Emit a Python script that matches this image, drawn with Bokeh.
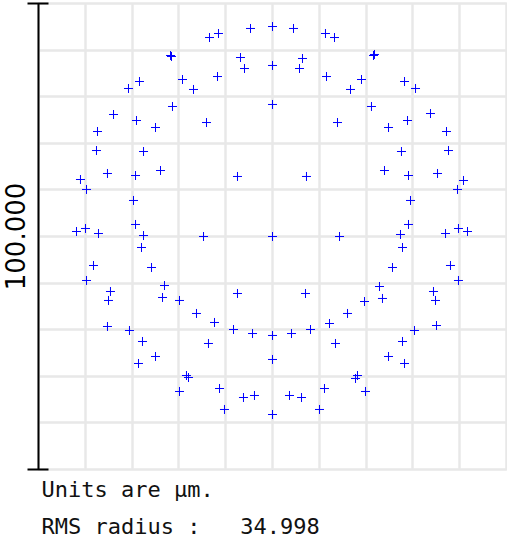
from bokeh.plotting import figure
from bokeh.models import FixedTicker, Range1d, Title
from bokeh.embed import file_html
from bokeh.resources import INLINE

# Spot diagram positions (µm)
spot_x = [-13.46, -11.54, -4.70, 0.0, 4.49, 11.32, 13.25, -21.79, -21.58, -6.84,
          -5.98, 6.41, 0.0, 5.77, 21.58, 21.79, -28.42, -30.77, -19.23, -16.88,
          -11.75, 11.54, 19.02, 16.67, 28.21, 30.56, -21.37, 0.0, 21.15, -33.97,
          -29.06, -25.0, -14.10, 13.89, 33.76, 28.85, 24.79, -37.39, 37.18, -37.61,
          -27.56, 27.56, 37.61, -35.26, -29.27, -23.93, -7.48, 7.26, 23.93, 29.06,
          35.26, -41.03, 40.81, -39.74, 39.53, -29.70, 29.49, -29.27, 29.06, -41.88,
          -39.96, 39.74, 41.67, -37.18, 36.97, -27.56, 27.35, -14.74, 14.32, 0.0,
          -27.99, 27.78, -38.25, 38.03, -25.85, 25.64, -39.74, 39.74, -23.08, 22.86,
          -34.62, 34.40, -35.04, 34.83, -23.50, 23.50, -19.87, 19.66, -7.48, 7.05,
          -16.24, 16.03, -12.39, 12.18, -8.33, 8.12, -4.27, 4.06, 0.0, -35.26,
          35.04, -30.56, 30.34, -27.78, 27.78, -13.68, 13.46, -25.0, 24.79, -28.63,
          28.21, 0.0, -18.38, -17.95, 18.16, 17.74, -19.87, 19.87, -11.32, 11.11,
          -10.26, 10.04, -6.20, -3.85, 3.63, 6.20, 0.0]
spot_y = [42.70, 43.56, 44.64, 45.06, 44.64, 43.56, 42.70, 38.84, 38.63, 38.41,
          36.05, 38.20, 36.70, 36.05, 38.84, 39.06, 33.26, 31.76, 33.69, 31.55,
          34.33, 34.33, 33.69, 31.55, 33.26, 31.76, 27.90, 28.33, 27.90, 26.18,
          24.89, 23.39, 24.46, 24.46, 26.39, 24.89, 23.39, 22.53, 22.53, 18.45,
          18.24, 18.24, 18.45, 13.52, 13.09, 14.16, 12.88, 12.88, 14.16, 13.09,
          13.52, 12.23, 12.02, 10.09, 10.09, 7.73, 7.73, 2.58, 2.58, 1.07,
          1.72, 1.72, 1.07, 0.64, 0.64, 0.21, 0.43, 0.0, 0.0, 0.0,
          -2.36, -2.36, -6.22, -6.22, -6.65, -6.65, -9.44, -9.44, -10.52, -10.73,
          -11.80, -11.80, -13.73, -13.73, -13.09, -13.30, -13.73, -13.95, -12.23, -12.23,
          -16.52, -16.52, -18.45, -18.67, -19.96, -19.96, -20.82, -20.82, -21.24, -19.31,
          -19.10, -20.17, -20.17, -22.53, -22.53, -22.96, -22.96, -25.75, -25.75, -27.25,
          -27.25, -26.39, -29.83, -30.26, -29.83, -30.47, -33.26, -33.26, -32.62, -32.62,
          -37.12, -37.12, -34.55, -34.12, -34.12, -34.55, -38.20]

grid_ticks = [-50, -40, -30, -20, -10, 0, 10, 20, 30, 40, 50]
bar_ticks = [-50, 50]
scale_label = "100.000"
note_units = "Units are µm."
note_rms = "RMS radius :\u00a0\u00a0\u00a034.998"

p = figure(frame_width=468, frame_height=466, output_backend="svg",
           toolbar_location=None, x_range=Range1d(-50, 50), y_range=Range1d(-50, 50),
           min_border_left=38, min_border_right=1, min_border_top=3, min_border_bottom=0,
           background_fill_color="white", border_fill_color="white")

p.outline_line_color = "#e8e8e8"
p.outline_line_width = 2.5

p.xaxis.visible = False
p.xgrid.ticker = FixedTicker(ticks=grid_ticks)
p.ygrid.ticker = FixedTicker(ticks=grid_ticks)
for g in (p.xgrid, p.ygrid):
    g.grid_line_color = "#e8e8e8"
    g.grid_line_width = 2.5

ax = p.yaxis[0]
ax.ticker = FixedTicker(ticks=bar_ticks)
ax.axis_line_color = "black"
ax.axis_line_width = 2
ax.major_tick_line_color = "black"
ax.major_tick_line_width = 2
ax.major_tick_out = 11
ax.major_tick_in = 10
ax.minor_tick_line_color = None
ax.major_label_overrides = {-50: "", 50: ""}
ax.major_label_text_font_size = "1px"
ax.major_label_standoff = 0
ax.axis_label = scale_label
ax.axis_label_text_font = "DejaVu Sans"
ax.axis_label_text_font_style = "normal"
ax.axis_label_text_font_size = "26px"
ax.axis_label_text_color = "black"
ax.axis_label_standoff = 3

p.scatter(spot_x, spot_y, marker="cross", size=9, line_color="blue",
          line_alpha=1.0, line_width=1)

t1 = Title(text=note_units, align="left", offset=3, text_font="DejaVu Sans Mono",
           text_font_size="22px", text_font_style="normal", text_color="#111111",
           standoff=11)
t2 = Title(text=note_rms, align="left", offset=3, text_font="DejaVu Sans Mono",
           text_font_size="22px", text_font_style="normal", text_color="#111111",
           standoff=8)
p.add_layout(t1, "below")
p.add_layout(t2, "below")

open("out.html", "w").write(file_html(p, INLINE))
